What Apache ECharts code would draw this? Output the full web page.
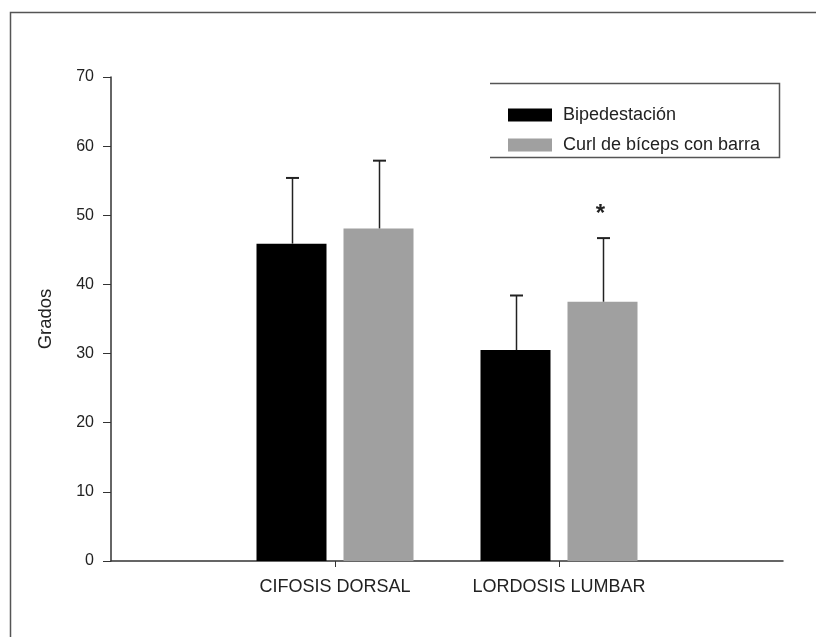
<!DOCTYPE html>
<html>
<head>
<meta charset="utf-8">
<script src="https://cdn.jsdelivr.net/npm/echarts@6/dist/echarts.min.js"></script>
<style>
html,body{margin:0;padding:0;background:#fff;}
#chart{width:816px;height:637px;}
</style>
</head>
<body>
<div id="chart"></div>
<script>
var categories = ['CIFOSIS DORSAL', 'LORDOSIS LUMBAR'];
var seriesNames = ['Bipedestación', 'Curl de bíceps con barra'];
var bipedMean = [45.9, 30.5];
var bipedSD = [9.5, 7.9];
var curlMean = [48.1, 37.5];
var curlSD = [9.8, 9.2];
var curlSignificance = ['', '*'];
var yTicks = [0, 10, 20, 30, 40, 50, 60, 70];

var FONT = "'Liberation Sans', Arial, sans-serif";
var BAR_W = 70, BAR_GAP = 17;
var OFF = (BAR_W + BAR_GAP) / 2;

// padded category axis so that categories sit at 1/3 and 2/3 of the axis
var xCats = [''].concat(categories).concat(['']);
function pad(arr) { return ['-'].concat(arr).concat(['-']); }

function errData(mean, sd) {
  return mean.map(function (m, i) { return [i + 1, m, m + sd[i]]; });
}
function errRender(offset) {
  return function (params, api) {
    var x = api.value(0);
    var base = api.coord([x, api.value(1)]);
    var top = api.coord([x, api.value(2)]);
    var cx = Math.round(top[0] + offset) + 0.5;
    return {
      type: 'group',
      children: [
        { type: 'line', shape: { x1: cx, y1: base[1], x2: cx, y2: top[1] }, style: { stroke: '#222', lineWidth: 1.5 } },
        { type: 'line', shape: { x1: cx - 6.5, y1: top[1], x2: cx + 6.5, y2: top[1] }, style: { stroke: '#222', lineWidth: 2 } }
      ]
    };
  };
}
var sigData = curlMean.map(function (m, i) { return [i + 1, m + curlSD[i], curlSignificance[i]]; })
  .filter(function (d) { return d[2] !== ''; });

var chart = echarts.init(document.getElementById('chart'), null, { renderer: 'canvas' });
chart.setOption({
  backgroundColor: '#fff',
  animation: false,
  textStyle: { fontFamily: FONT },
  grid: { left: 111, right: 33, top: 77, bottom: 76, containLabel: false },
  legend: {
    orient: 'vertical',
    left: 503, top: 101,
    itemWidth: 44, itemHeight: 13, itemGap: 12,
    icon: 'rect',
    data: seriesNames,
    textStyle: { fontFamily: FONT, fontSize: 18, color: '#222', padding: [0, 0, 0, 6] }
  },
  xAxis: {
    type: 'category',
    data: xCats,
    boundaryGap: false,
    axisLine: { lineStyle: { color: '#333', width: 1.5 } },
    axisTick: {
      show: true, length: 6, inside: false,
      interval: function (idx) { return idx > 0 && idx < xCats.length - 1; },
      lineStyle: { color: '#333', width: 1 }
    },
    axisLabel: {
      interval: 0, margin: 17, color: '#222', fontSize: 18, fontFamily: FONT
    },
    splitLine: { show: false }
  },
  yAxis: {
    type: 'value',
    min: yTicks[0], max: yTicks[yTicks.length - 1], interval: 10,
    name: 'Grados',
    nameLocation: 'middle',
    nameGap: 56,
    nameTextStyle: { fontSize: 18.5, color: '#222', fontFamily: FONT },
    axisLine: { show: true, lineStyle: { color: '#333', width: 1.5 } },
    axisTick: { show: true, length: 8, lineStyle: { color: '#333', width: 1 } },
    axisLabel: { margin: 17, color: '#222', fontSize: 16, fontFamily: FONT },
    splitLine: { show: false }
  },
  series: [
    {
      name: seriesNames[0], type: 'bar', data: pad(bipedMean),
      barWidth: BAR_W, barGap: (BAR_GAP / BAR_W * 100) + '%',
      itemStyle: { color: '#000' }
    },
    {
      name: seriesNames[1], type: 'bar', data: pad(curlMean),
      barWidth: BAR_W, barGap: (BAR_GAP / BAR_W * 100) + '%',
      itemStyle: { color: '#a0a0a0' }
    },
    {
      type: 'custom', name: 'err1', data: errData(bipedMean, bipedSD),
      renderItem: errRender(-OFF), z: 5, silent: true,
      encode: { x: 0, y: [1, 2] }
    },
    {
      type: 'custom', name: 'err2', data: errData(curlMean, curlSD),
      renderItem: errRender(OFF), z: 5, silent: true,
      encode: { x: 0, y: [1, 2] }
    },
    {
      type: 'custom', name: 'sig', data: sigData, z: 6, silent: true,
      encode: { x: 0, y: 1 },
      renderItem: function (params, api) {
        var p = api.coord([api.value(0), api.value(1)]);
        return {
          type: 'text',
          style: {
            text: sigData[params.dataIndex][2],
            x: p[0] + OFF - 2, y: p[1] - 24,
            align: 'center', verticalAlign: 'middle',
            fontSize: 24, fontWeight: 'bold', fontFamily: FONT, fill: '#222'
          }
        };
      }
    }
  ],
  graphic: [
    // outer frame (left and top edges visible)
    { type: 'polyline', shape: { points: [[10.5, 637], [10.5, 12.5], [816, 12.5]] }, style: { stroke: '#555', lineWidth: 1.5, fill: null } },
    // legend box (top, right, bottom)
    { type: 'polyline', shape: { points: [[490, 83.5], [779.5, 83.5], [779.5, 157.5], [490, 157.5]] }, style: { stroke: '#555', lineWidth: 1.5, fill: null } }
  ]
});
</script>
</body>
</html>
